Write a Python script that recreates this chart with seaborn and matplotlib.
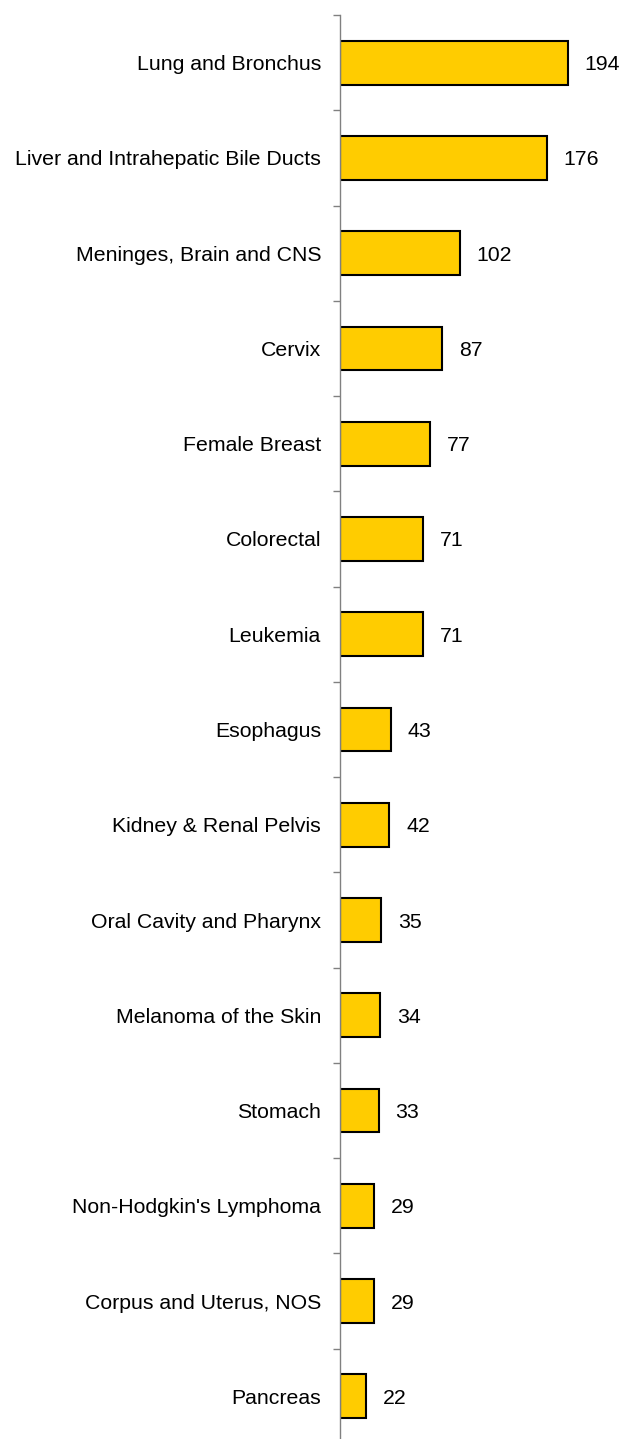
import matplotlib
matplotlib.use('Agg')
import matplotlib.pyplot as plt
import numpy as np
import pandas as pd
import seaborn as sns

sites = [
    'Lung and Bronchus',
    'Liver and Intrahepatic Bile Ducts',
    'Meninges, Brain and CNS',
    'Cervix',
    'Female Breast',
    'Colorectal',
    'Leukemia',
    'Esophagus',
    'Kidney & Renal Pelvis',
    'Oral Cavity and Pharynx',
    'Melanoma of the Skin',
    'Stomach',
    "Non-Hodgkin's Lymphoma",
    'Corpus and Uterus, NOS',
    'Pancreas',
]
counts = [194, 176, 102, 87, 77, 71, 71, 43, 42, 35, 34, 33, 29, 29, 22]

df = pd.DataFrame({'site': sites, 'count': counts})

sns.set_style('white')
plt.rcParams['font.family'] = ['Liberation Sans', 'DejaVu Sans']
plt.rcParams['text.color'] = 'black'
plt.rcParams['ytick.labelcolor'] = 'black'

fig = plt.figure(figsize=(6.31, 14.39), dpi=100)
# axes placed so the spine sits where the reference has it
ax = fig.add_axes([340 / 631, -5 / 1439, 291 / 631, 1429 / 1439])

sns.barplot(data=df, x='count', y='site', orient='h', color='#FFCC00',
            saturation=1, width=0.46, edgecolor='black', linewidth=1.5, ax=ax)

labels = ax.bar_label(ax.containers[0], padding=12, fontsize=15.3, color='black')
for t in labels:
    t.set_va('center_baseline')

ax.set_xlim(0, 247.6)
ax.set_ylim(len(sites) - 0.5, -0.5)
ax.set_xlabel('')
ax.set_ylabel('')
ax.set_xticks([])

# tick marks between categories, labels at category centres
ax.set_yticks(np.arange(-0.5, len(sites), 1), minor=True)
ax.tick_params(axis='y', which='major', length=0, pad=19 * 0.72, labelsize=15.3,
               labelcolor='black')
ax.tick_params(axis='y', which='minor', length=5, width=1, color='#808080', left=True)

for side in ['top', 'right', 'bottom']:
    ax.spines[side].set_visible(False)
ax.spines['left'].set_color('#808080')
ax.spines['left'].set_linewidth(1)

plt.savefig('out.png', dpi=100)
